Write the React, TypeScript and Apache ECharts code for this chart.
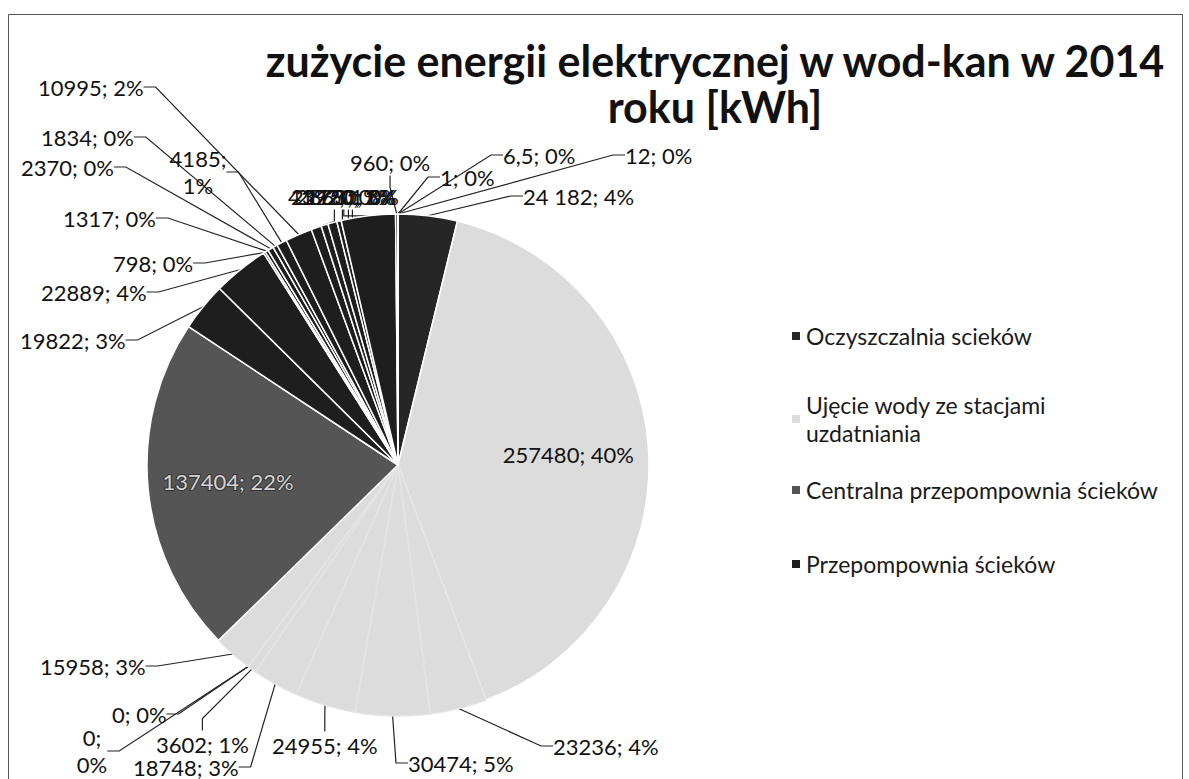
import React, { useEffect, useRef } from 'react';
import * as echarts from 'echarts';

const TITLE_LINES = ['zużycie energii elektrycznej w wod-kan w 2014', 'roku [kWh]'];

const legendNames = [
  'Oczyszczalnia scieków',
  'Ujęcie wody ze stacjami uzdatniania',
  'Centralna przepompownia ścieków',
  'Przepompownia ścieków',
];

// slices, clockwise from 12 o'clock
const sliceNames = [
  'Oczyszczalnia scieków',
  'Ujęcie wody ze stacjami uzdatniania',
  'Stacja uzdatniania 1',
  'Stacja uzdatniania 2',
  'Stacja uzdatniania 3',
  'Stacja uzdatniania 4',
  'Stacja uzdatniania 5',
  'Stacja uzdatniania 6',
  'Stacja uzdatniania 7',
  'Stacja uzdatniania 8',
  'Centralna przepompownia ścieków',
  'Przepompownia ścieków',
  'Przepompownia P2',
  'Przepompownia P3',
  'Przepompownia P4',
  'Przepompownia P5',
  'Przepompownia P6',
  'Przepompownia P7',
  'Przepompownia P8',
  'Przepompownia P9',
  'Przepompownia P10',
  'Przepompownia P11',
  'Przepompownia P12',
  'Przepompownia P13',
  'Przepompownia P14',
  'Przepompownia P15',
  'Przepompownia P16',
  'Przepompownia P17',
];

const sliceValues = [
  24182, 257480, 23236, 30474, 24955, 18748, 3602, 0, 0, 15958,
  137404, 19822, 22889, 798, 1317, 2370, 1834, 4185, 10995,
  4192, 2863, 3720, 1780, 22150, 960, 1, 6.5, 12,
];

// label anchor spots (left x / center y) for the outside labels, as dragged in the original
const labelSpots: [number, number, string][] = [
  [523, 196, 'left'],
  [0, 0, 'center'],
  [553, 746, 'left'],
  [408, 763, 'left'],
  [272, 745, 'left'],
  [133, 767, 'left'],
  [156, 744, 'left'],
  [112, 714, 'left'],
  [92, 751, 'center'],
  [40, 666, 'left'],
  [0, 0, 'center'],
  [20, 340, 'left'],
  [41, 292, 'left'],
  [113, 263, 'left'],
  [63, 218, 'left'],
  [21, 167, 'left'],
  [41, 137, 'left'],
  [198, 172, 'center'],
  [38, 87, 'left'],
  [288, 196, 'left'],
  [296, 196, 'left'],
  [302, 196, 'left'],
  [306, 196, 'left'],
  [291, 196, 'left'],
  [350, 162, 'left'],
  [440, 177, 'left'],
  [503, 155, 'left'],
  [625, 155, 'left'],
];

const insideIdx = [1, 10];
const wrapIdx = [8, 17];
const groupedIdx = [0];

const CX = 398;
const CY = 465;
const R = 251;

function sliceColor(i: number): string {
  if (i === 0) return '#262626';
  if (i >= 1 && i <= 9) return '#dcdcdc';
  if (i === 10) return '#555555';
  return '#1e1e1e';
}

function fmtNum(v: number, i: number): string {
  let s = String(v).replace('.', ',');
  if (groupedIdx.includes(i)) s = s.replace(/\B(?=(\d{3})+(?!\d))/g, ' ');
  return s;
}

export default function App() {
  const ref = useRef<HTMLDivElement>(null);
  useEffect(() => {
    document.body.style.margin = '0';
    const chart = echarts.init(ref.current!, undefined, { renderer: 'svg' });
    const total = sliceValues.reduce((a, b) => a + b, 0);
    const cum: number[] = [];
    let acc = 0;
    sliceValues.forEach((v) => {
      cum.push(acc);
      acc += v;
    });

    const data = sliceValues.map((v, i) => {
      const light = i >= 2 && i <= 9;
      const item: any = {
        name: sliceNames[i],
        value: v,
        itemStyle: { color: sliceColor(i), borderColor: light ? '#e4e4e4' : '#ffffff' },
      };
      if (insideIdx.includes(i)) {
        item.label = {
          position: 'inside',
          color: i === 10 ? '#d4d4d4' : '#111',
          textBorderColor: i === 10 ? '#333' : 'transparent',
          textBorderWidth: i === 10 ? 2 : 0,
        };
        item.labelLine = { show: false };
      }
      return item;
    });

    chart.setOption({
      animation: false,
      backgroundColor: '#ffffff',
      title: {
        text: TITLE_LINES.join('\n'),
        left: 715,
        top: 37,
        textAlign: 'center',
        padding: 0,
        textStyle: {
          fontFamily: 'Lato',
          fontWeight: 'bold',
          fontSize: 43,
          lineHeight: 46,
          color: '#111',
        },
      },
      legend: legendNames.map((n, k) => ({
        data: [n],
        orient: 'vertical',
        left: 785,
        top: [317, 386, 471, 545][k],
        icon: 'rect',
        itemWidth: 10,
        itemHeight: 10,
        selectedMode: false,
        textStyle: { fontFamily: 'Lato', fontSize: 23, color: '#1a1a1a', lineHeight: 28 },
        formatter: (name: string) =>
          name === 'Ujęcie wody ze stacjami uzdatniania' ? 'Ujęcie wody ze stacjami\nuzdatniania' : name,
      })),
      graphic: [
        {
          type: 'rect',
          shape: { x: 8.5, y: 14.5, width: 1174, height: 800 },
          style: { fill: 'none', stroke: '#555', lineWidth: 1 },
          silent: true,
        },
      ],
      series: [
        {
          type: 'pie',
          center: [CX, CY],
          radius: R,
          startAngle: 90,
          clockwise: true,
          avoidLabelOverlap: false,
          data,
          itemStyle: { borderWidth: 1.5 },
          label: {
            show: true,
            position: 'outer',
            alignTo: 'none',
            fontFamily: 'Lato',
            fontSize: 22,
            lineHeight: 27,
            color: '#111',
            formatter: (p: any) => {
              const pct = Math.round((p.value / total) * 100);
              const sep = wrapIdx.includes(p.dataIndex) ? ';\n' : '; ';
              return `${fmtNum(p.value, p.dataIndex)}${sep}${pct}%`;
            },
          },
          labelLine: {
            show: true,
            length: 10,
            length2: 12,
            smooth: false,
            lineStyle: { color: '#222', width: 1.2 },
          },
          labelLayout: (params: any) => {
            const i = params.dataIndex;
            if (insideIdx.includes(i)) {
              const mid = ((cum[i] + sliceValues[i] / 2) / total) * Math.PI * 2;
              const rr = R * 0.68;
              return {
                x: CX + rr * Math.sin(mid),
                y: CY - rr * Math.cos(mid),
                align: 'center',
                verticalAlign: 'middle',
              };
            }
            const s = labelSpots[i];
            return { x: s[0], y: s[1], align: s[2], verticalAlign: 'middle' };
          },
        },
      ],
    });
    return () => chart.dispose();
  }, []);
  return <div ref={ref} style={{ width: 1189, height: 779 }} />;
}
